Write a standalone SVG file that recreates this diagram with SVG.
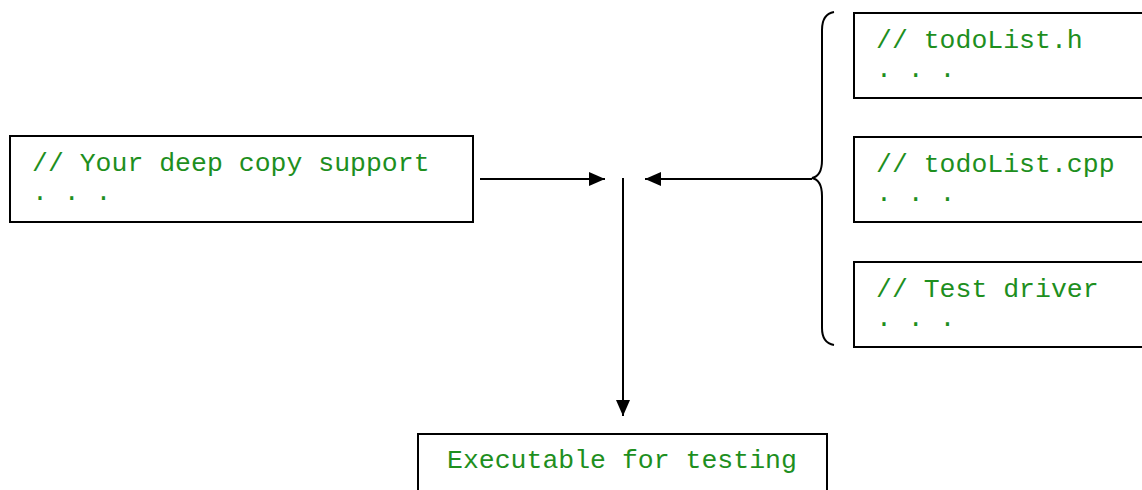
<svg xmlns="http://www.w3.org/2000/svg" width="1142" height="490" viewBox="0 0 1142 490">
  <defs>
    <marker id="arrow" viewBox="0 0 10 10" refX="10" refY="5" markerWidth="8" markerHeight="8" orient="auto" markerUnits="userSpaceOnUse">
      <path d="M0,0 L10,5 L0,10 Z" fill="#000"/>
    </marker>
    <marker id="head" viewBox="0 0 16 14" refX="16" refY="7" markerWidth="16" markerHeight="14" orient="auto" markerUnits="userSpaceOnUse">
      <path d="M0,0 L16,7 L0,14 Z" fill="#000"/>
    </marker>
  </defs>
  <style>
    .box { fill: #fff; stroke: #000; stroke-width: 2; }
    .code { font-family: "Liberation Mono", "Courier New", monospace; font-size: 26.5px; fill: #1e8f1e; }
    .wire { stroke: #000; stroke-width: 2; fill: none; }
  </style>
  <rect width="1142" height="490" fill="#fff"/>

  <g id="deep-copy">
    <rect class="box" x="10" y="136" width="463" height="86"/>
    <text class="code" x="32" y="171">// Your deep copy support</text>
    <text class="code" x="32" y="200">. . .</text>
  </g>

  <g id="todolist-h">
    <rect class="box" x="854" y="13" width="300" height="85"/>
    <text class="code" x="876" y="48">// todoList.h</text>
    <text class="code" x="876" y="77">. . .</text>
  </g>

  <g id="todolist-cpp">
    <rect class="box" x="854" y="137" width="300" height="85"/>
    <text class="code" x="876" y="172">// todoList.cpp</text>
    <text class="code" x="876" y="201">. . .</text>
  </g>

  <g id="test-driver">
    <rect class="box" x="854" y="262" width="300" height="85"/>
    <text class="code" x="876" y="297">// Test driver</text>
    <text class="code" x="876" y="326">. . .</text>
  </g>

  <g id="executable">
    <rect class="box" x="418" y="434" width="409" height="70"/>
    <text class="code" x="447" y="468">Executable for testing</text>
  </g>

  <g id="connectors">
    <!-- brace grouping the three source files -->
    <path class="wire" d="M834,12 Q822,14 822,30 L822,160 Q822,176 812,178 Q822,180 822,196 L822,328 Q822,343 834,345"/>
    <line class="wire" x1="480" y1="179" x2="605" y2="179" marker-end="url(#head)"/>
    <line class="wire" x1="812" y1="179" x2="645" y2="179" marker-end="url(#head)"/>
    <line class="wire" x1="623" y1="178" x2="623" y2="416" marker-end="url(#head)"/>
  </g>
</svg>
